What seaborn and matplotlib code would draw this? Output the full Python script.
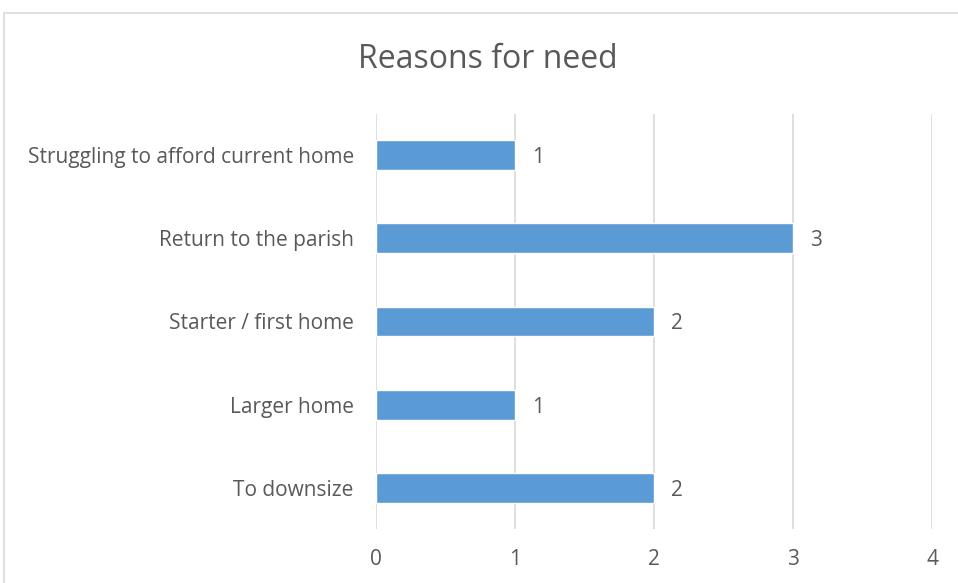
import numpy as np
import pandas as pd
import matplotlib
matplotlib.use("Agg")
import matplotlib.pyplot as plt
import seaborn as sns
from matplotlib.patches import Rectangle

reasons = ["Struggling to afford current home", "Return to the parish",
           "Starter / first home", "Larger home", "To downsize"]
counts = [1, 3, 2, 1, 2]
xticks = [0, 1, 2, 3, 4]

df = pd.DataFrame(dict(reason=reasons, count=counts))

sns.set_theme(style="white")
plt.rcParams['font.family'] = ['Open Sans', 'DejaVu Sans']

text_col = "#595959"
grid_col = "#D9D9D9"
bar_col = "#5B9BD5"

fig = plt.figure(figsize=(9.58, 5.83), dpi=100)
ax = fig.add_axes([0.3925, 0.0918, 0.5804, 0.7135])

# chart border (cropped at right / bottom like the screenshot)
fig.patches.append(Rectangle((4/958, -0.01), 1.0, 1 - 13/583 + 0.01,
                             transform=fig.transFigure, fill=False,
                             edgecolor=grid_col, linewidth=1.2))

sns.barplot(df, x="count", y="reason", color=bar_col, width=0.36,
            saturation=1, ax=ax, orient="h")

ax.set_xlim(0, 4)
ax.set_xticks(xticks)
ax.set_xticklabels([str(t) for t in xticks])
for t in xticks:
    ax.axvline(t, color=grid_col, linewidth=1.2, zorder=0)
for s in ax.spines.values():
    s.set_visible(False)
ax.tick_params(axis='both', length=0, colors=text_col, labelsize=15)
ax.tick_params(axis='y', pad=16)
ax.tick_params(axis='x', pad=14)
ax.set_xlabel("")
ax.set_ylabel("")

for i, v in enumerate(counts):
    ax.annotate(str(v), (v, i), xytext=(12, 0), textcoords="offset points",
                va="center_baseline", ha="left", color=text_col, fontsize=15)

fig.text(488/958, 1 - 60/583, "Reasons for need", ha="center", va="center",
         fontsize=23, color=text_col)

fig.savefig("out.png", dpi=100)
